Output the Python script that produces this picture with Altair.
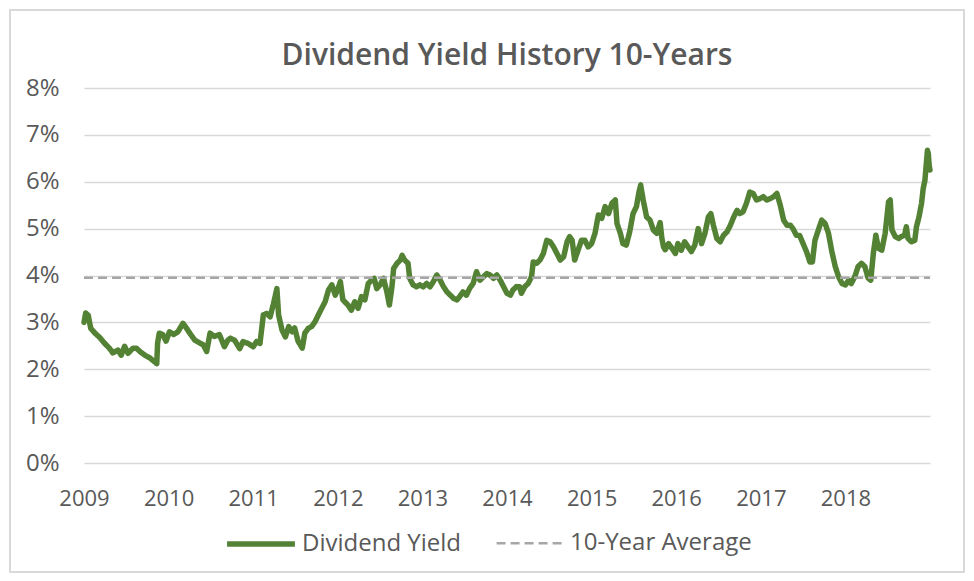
import altair as alt
import pandas as pd

# ---- data (decimal year, dividend yield in %) ----
years = [
    2009.00, 2009.02, 2009.05, 2009.08, 2009.13, 2009.19, 2009.24, 2009.30, 2009.34, 2009.40,
    2009.44, 2009.48, 2009.52, 2009.58, 2009.62, 2009.66, 2009.72, 2009.78, 2009.84, 2009.86,
    2009.87, 2009.89, 2009.93, 2009.97, 2010.01, 2010.06, 2010.11, 2010.17, 2010.21, 2010.25,
    2010.31, 2010.37, 2010.41, 2010.45, 2010.49, 2010.54, 2010.60, 2010.66,
    2010.70, 2010.73, 2010.78, 2010.84, 2010.88, 2010.94, 2011.00, 2011.04, 2011.08, 2011.12,
    2011.16, 2011.20, 2011.24, 2011.28, 2011.30, 2011.34, 2011.38, 2011.42, 2011.46, 2011.49,
    2011.53, 2011.58, 2011.61, 2011.65, 2011.69, 2011.73, 2011.77, 2011.81, 2011.85, 2011.89,
    2011.93, 2011.97, 2012.01, 2012.03, 2012.06, 2012.12, 2012.16, 2012.20, 2012.24, 2012.28,
    2012.32, 2012.36,
    2012.40, 2012.43, 2012.46, 2012.50, 2012.54, 2012.58, 2012.61, 2012.64, 2012.66, 2012.70,
    2012.74, 2012.76, 2012.79, 2012.83, 2012.85, 2012.89, 2012.93, 2012.97, 2013.01, 2013.05,
    2013.09, 2013.13, 2013.17, 2013.21, 2013.25, 2013.29, 2013.33, 2013.37, 2013.41, 2013.44,
    2013.48, 2013.52, 2013.56, 2013.60, 2013.64, 2013.68, 2013.72, 2013.76, 2013.80, 2013.84,
    2013.88, 2013.92, 2013.96, 2014.00, 2014.04, 2014.07, 2014.11,
    2014.15, 2014.17, 2014.21, 2014.25, 2014.29, 2014.31, 2014.35, 2014.39, 2014.43, 2014.47,
    2014.51, 2014.55, 2014.59, 2014.63, 2014.67, 2014.71, 2014.74, 2014.77, 2014.80, 2014.84,
    2014.88, 2014.92, 2014.96, 2015.00, 2015.04, 2015.08, 2015.12, 2015.16, 2015.20, 2015.24,
    2015.28, 2015.30, 2015.34, 2015.37, 2015.41, 2015.45, 2015.49, 2015.53, 2015.56, 2015.58,
    2015.61, 2015.65, 2015.69, 2015.73, 2015.77, 2015.81, 2015.83, 2015.85, 2015.87,
    2015.91, 2015.95, 2015.99, 2016.02, 2016.06, 2016.10, 2016.14, 2016.18, 2016.22, 2016.26,
    2016.30, 2016.34, 2016.38, 2016.41, 2016.44, 2016.48, 2016.52, 2016.56, 2016.60, 2016.64,
    2016.68, 2016.72, 2016.75, 2016.79, 2016.83, 2016.87, 2016.91, 2016.95, 2016.99, 2017.03,
    2017.07, 2017.11, 2017.15, 2017.19, 2017.23, 2017.27, 2017.31, 2017.35, 2017.38, 2017.42,
    2017.46, 2017.50, 2017.54, 2017.58, 2017.61, 2017.64, 2017.68, 2017.72, 2017.76, 2017.80,
    2017.84, 2017.88, 2017.92, 2017.96, 2018.00, 2018.04, 2018.07, 2018.11, 2018.15, 2018.19,
    2018.23, 2018.27, 2018.30, 2018.33, 2018.36, 2018.39, 2018.43, 2018.47, 2018.51, 2018.53,
    2018.55, 2018.59, 2018.63, 2018.66, 2018.70, 2018.72, 2018.74, 2018.78, 2018.82, 2018.84,
    2018.87, 2018.90, 2018.92, 2018.94, 2018.96, 2018.97, 2018.98, 2018.99, 2019.00,
]
dividend_yield = [
    3.00, 3.20, 3.15, 2.87, 2.77, 2.67, 2.56, 2.45, 2.35, 2.41,
    2.30, 2.49, 2.34, 2.45, 2.45, 2.38, 2.30, 2.24, 2.15, 2.12,
    2.56, 2.77, 2.74, 2.60, 2.80, 2.74, 2.80, 2.98, 2.88, 2.77,
    2.62, 2.56, 2.52, 2.38, 2.77, 2.70, 2.74, 2.48,
    2.62, 2.66, 2.62, 2.44, 2.59, 2.55, 2.48, 2.59, 2.55, 3.16,
    3.19, 3.12, 3.40, 3.72, 3.16, 2.84, 2.69, 2.91, 2.80, 2.88,
    2.60, 2.45, 2.77, 2.87, 2.91, 3.01, 3.16, 3.30, 3.44, 3.69,
    3.80, 3.58, 3.76, 3.87, 3.48, 3.37, 3.26, 3.44, 3.30, 3.55,
    3.48, 3.83,
    3.90, 3.94, 3.72, 3.80, 3.94, 3.65, 3.37, 3.76, 4.15, 4.26,
    4.33, 4.43, 4.33, 4.26, 3.94, 3.80, 3.76, 3.80, 3.76, 3.83,
    3.76, 3.87, 4.01, 3.90, 3.76, 3.65, 3.58, 3.51, 3.48, 3.55,
    3.65, 3.58, 3.73, 3.83, 4.08, 3.90, 3.97, 4.04, 4.01, 3.94,
    4.01, 3.90, 3.76, 3.62, 3.58, 3.69, 3.76,
    3.76, 3.62, 3.76, 3.83, 3.97, 4.29, 4.26, 4.33, 4.47, 4.75,
    4.72, 4.61, 4.47, 4.33, 4.40, 4.72, 4.83, 4.75, 4.33, 4.54,
    4.75, 4.75, 4.61, 4.68, 4.90, 5.29, 5.22, 5.47, 5.32, 5.54,
    5.61, 5.11, 4.90, 4.68, 4.65, 4.93, 5.32, 5.47, 5.78, 5.93,
    5.61, 5.25, 5.18, 4.97, 4.90, 5.13, 4.80, 4.61, 4.55,
    4.68, 4.58, 4.47, 4.68, 4.54, 4.72, 4.61, 4.51, 4.65, 5.00,
    4.68, 4.90, 5.25, 5.32, 5.07, 4.79, 4.72, 4.86, 4.93, 5.07,
    5.25, 5.39, 5.32, 5.36, 5.54, 5.78, 5.75, 5.61, 5.64, 5.68,
    5.61, 5.64, 5.68, 5.75, 5.50, 5.18, 5.07, 5.07, 5.00, 4.86,
    4.85, 4.68, 4.51, 4.29, 4.29, 4.75, 4.97, 5.18, 5.11, 4.90,
    4.51, 4.19, 3.97, 3.83, 3.80, 3.90, 3.83, 3.97, 4.19, 4.26,
    4.19, 3.94, 3.90, 4.47, 4.86, 4.58, 4.54, 4.90, 5.57, 5.61,
    4.97, 4.83, 4.79, 4.83, 4.86, 5.04, 4.79, 4.72, 4.75, 5.04,
    5.25, 5.54, 5.86, 6.03, 6.46, 6.67, 6.60, 6.35, 6.25,
]
ten_year_average = 3.95
average_span = [2009, 2019]
year_ticks = [2009, 2010, 2011, 2012, 2013, 2014, 2015, 2016, 2017, 2018]
pct_ticks = [0, 1, 2, 3, 4, 5, 6, 7, 8]
series_names = ["Dividend Yield", "10-Year Average"]

df_yield = pd.DataFrame({"year": years, "value": dividend_yield, "series": series_names[0]})
df_avg = pd.DataFrame({
    "year": average_span,
    "value": [ten_year_average] * len(average_span),
    "series": series_names[1],
})

FONT = "Open Sans"
TEXT = "#595959"
GREEN = "#548235"
GREY = "#a6a6a6"

legend = alt.Legend(
    title=None, orient="none", legendX=140, legendY=419, direction="horizontal",
    symbolType="stroke", symbolSize=4600, labelFont=FONT, labelFontSize=24,
    labelColor=TEXT, labelOffset=4, columnPadding=29, labelLimit=400, padding=0,
)

x_enc = alt.X(
    "year:Q",
    scale=alt.Scale(domain=[2009, 2019], nice=False, zero=False),
    axis=alt.Axis(values=year_ticks, format="d", title=None, grid=False, ticks=False,
                  domain=False, labelPadding=25, labelFontSize=22, labelFlush=False,
                  labelOverlap=False),
)
y_enc = alt.Y(
    "value:Q",
    scale=alt.Scale(domain=[0, 8], nice=False),
    axis=alt.Axis(values=pct_ticks, labelExpr="datum.value + '%'", title=None, grid=True,
                  gridColor="#d9d9d9", gridWidth=1.5, domain=False, ticks=False,
                  labelPadding=25, labelFontSize=24),
)
color_enc = alt.Color("series:N", scale=alt.Scale(domain=series_names, range=[GREEN, GREY]), legend=legend)
dash_enc = alt.StrokeDash("series:N", scale=alt.Scale(domain=series_names, range=[[1, 0], [9, 5]]), legend=legend)
width_enc = alt.StrokeWidth("series:N", scale=alt.Scale(domain=series_names, range=[5.5, 2.5]), legend=legend)

line = alt.Chart(df_yield).mark_line(strokeJoin="round", strokeCap="round").encode(
    x=x_enc, y=y_enc, color=color_enc, strokeDash=dash_enc, strokeWidth=width_enc
)
avg = alt.Chart(df_avg).mark_line().encode(
    x=x_enc, y=y_enc, color=color_enc, strokeDash=dash_enc, strokeWidth=width_enc
)
# light chart-area border, as in the spreadsheet picture
frame = alt.Chart(df_avg).mark_rect(fill=None, stroke="#d9d9d9", strokeWidth=2).encode(
    x=alt.value(-74), x2=alt.value(880), y=alt.value(-78), y2=alt.value(484)
)

chart = alt.layer(frame, line, avg).properties(
    width=846, height=375,
    title=alt.TitleParams(
        "Dividend Yield History 10-Years", font=FONT, fontSize=30, fontWeight=600,
        color=TEXT, anchor="middle", frame="group", offset=-62,
    ),
    autosize="none",
    padding={"left": 76, "top": 80, "right": 36, "bottom": 111},
).configure_view(stroke=None).configure_axis(
    labelFont=FONT, labelColor=TEXT
)

chart.save("out.html", embed_options={"renderer": "svg", "actions": False})
